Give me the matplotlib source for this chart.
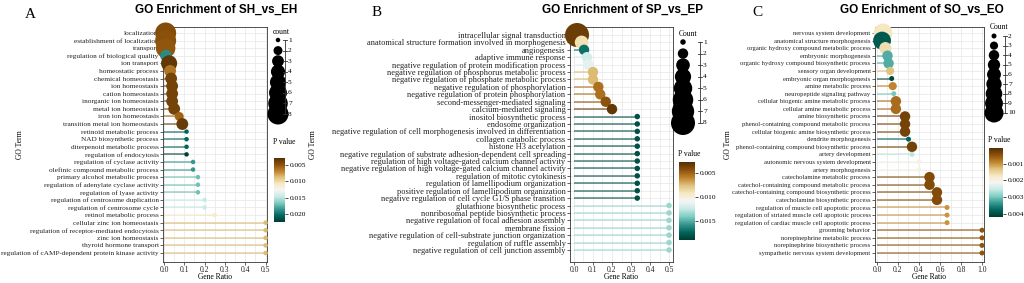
import matplotlib
matplotlib.use("Agg")
import matplotlib.pyplot as plt
import matplotlib.cm as cm
import numpy as np
from matplotlib.colors import Normalize

W, H = 1024, 283
SERIF = "Liberation Serif"
SANS = "Liberation Sans"
CMAP = plt.get_cmap("BrBG")

# ── Panel A — SH vs EH ───────────────────────────────────────────────────────
terms_a = [
    "localization", "establishment of localization", "transport",
    "regulation of biological quality", "ion transport", "homeostatic process",
    "chemical homeostasis", "ion homeostasis", "cation homeostasis",
    "inorganic ion homeostasis", "metal ion homeostasis", "iron ion homeostasis",
    "transition metal ion homeostasis", "retinoid metabolic process",
    "NAD biosynthetic process", "diterpenoid metabolic process",
    "regulation of endocytosis", "regulation of cyclase activity",
    "olefinic compound metabolic process", "primary alcohol metabolic process",
    "regulation of adenylate cyclase activity", "regulation of lyase activity",
    "regulation of centrosome duplication", "regulation of centrosome cycle",
    "retinol metabolic process", "cellular zinc ion homeostasis",
    "regulation of receptor-mediated endocytosis", "zinc ion homeostasis",
    "thyroid hormone transport",
    "regulation of cAMP-dependent protein kinase activity",
]
ratio_a = [0.008, 0.008, 0.008, 0.010, 0.025, 0.030, 0.035, 0.040, 0.040, 0.040,
           0.050, 0.075, 0.090, 0.111, 0.111, 0.111, 0.111, 0.143, 0.143, 0.167,
           0.167, 0.167, 0.200, 0.200, 0.250, 0.5, 0.5, 0.5, 0.5, 0.5]
count_a = [8, 8, 7, 3, 5, 3, 3, 3, 3, 3, 3, 2, 3, 1, 1, 1, 1, 1, 1, 1,
           1, 1, 1, 1, 1, 1, 1, 1, 1, 1]
pval_a = [0.0045, 0.0048, 0.0050, 0.0190, 0.0033, 0.0062, 0.0040, 0.0040, 0.0040,
          0.0040, 0.0040, 0.0055, 0.0035, 0.0205, 0.0205, 0.0205, 0.0222, 0.0185,
          0.0185, 0.0170, 0.0170, 0.0170, 0.0145, 0.0145, 0.0110, 0.0085, 0.0085,
          0.0085, 0.0085, 0.0085]

# ── Panel B — SP vs EP ───────────────────────────────────────────────────────
terms_b = [
    "intracellular signal transduction",
    "anatomical structure formation involved in morphogenesis", "angiogenesis",
    "adaptive immune response",
    "negative regulation of protein modification process",
    "negative regulation of phosphorus metabolic process",
    "negative regulation of phosphate metabolic process",
    "negative regulation of phosphorylation",
    "negative regulation of protein phosphorylation",
    "second-messenger-mediated signaling", "calcium-mediated signaling",
    "inositol biosynthetic process", "endosome organization",
    "negative regulation of cell morphogenesis involved in differentiation",
    "collagen catabolic process", "histone H3 acetylation",
    "negative regulation of substrate adhesion-dependent cell spreading",
    "regulation of high voltage-gated calcium channel activity",
    "negative regulation of high voltage-gated calcium channel activity",
    "regulation of mitotic cytokinesis", "regulation of lamellipodium organization",
    "positive regulation of lamellipodium organization",
    "negative regulation of cell cycle G1/S phase transition",
    "glutathione biosynthetic process", "nonribosomal peptide biosynthetic process",
    "negative regulation of focal adhesion assembly", "membrane fission",
    "negative regulation of cell-substrate junction organization",
    "regulation of ruffle assembly", "negative regulation of cell junction assembly",
]
ratio_b = [0.016, 0.040, 0.053, 0.068, 0.074, 0.100, 0.100, 0.128, 0.138, 0.167,
           0.200, 0.333, 0.333, 0.333, 0.333, 0.333, 0.333, 0.333, 0.333, 0.333,
           0.333, 0.333, 0.333, 0.5, 0.5, 0.5, 0.5, 0.5, 0.5, 0.5]
count_b = [8, 3, 2, 2, 2, 2, 2, 2, 2, 2, 2, 1, 1, 1, 1, 1, 1, 1, 1, 1,
           1, 1, 1, 1, 1, 1, 1, 1, 1, 1]
pval_b = [0.0035, 0.0090, 0.0170, 0.0120, 0.0115, 0.0075, 0.0075, 0.0055, 0.0055,
          0.0045, 0.0032, 0.0182, 0.0182, 0.0182, 0.0182, 0.0182, 0.0182, 0.0182,
          0.0182, 0.0182, 0.0182, 0.0182, 0.0182, 0.0135, 0.0135, 0.0135, 0.0135,
          0.0135, 0.0135, 0.0135]

# ── Panel C — SO vs EO ───────────────────────────────────────────────────────
terms_c = [
    "nervous system development", "anatomical structure morphogenesis",
    "organic hydroxy compound metabolic process", "embryonic morphogenesis",
    "organic hydroxy compound biosynthetic process", "sensory organ development",
    "embryonic organ morphogenesis", "amine metabolic process",
    "neuropeptide signaling pathway", "cellular biogenic amine metabolic process",
    "cellular amine metabolic process", "amine biosynthetic process",
    "phenol-containing compound metabolic process",
    "cellular biogenic amine biosynthetic process", "dendrite morphogenesis",
    "phenol-containing compound biosynthetic process", "artery development",
    "autonomic nervous system development", "artery morphogenesis",
    "catecholamine metabolic process", "catechol-containing compound metabolic process",
    "catechol-containing compound biosynthetic process",
    "catecholamine biosynthetic process", "regulation of muscle cell apoptotic process",
    "regulation of striated muscle cell apoptotic process",
    "regulation of cardiac muscle cell apoptotic process", "grooming behavior",
    "norepinephrine metabolic process", "norepinephrine biosynthetic process",
    "sympathetic nervous system development",
]
ratio_c = [0.057, 0.048, 0.080, 0.100, 0.110, 0.125, 0.140, 0.150, 0.160, 0.180,
           0.180, 0.267, 0.267, 0.267, 0.300, 0.333, 0.333, 0.400, 0.400, 0.500,
           0.500, 0.571, 0.571, 0.667, 0.667, 0.667, 1.0, 1.0, 1.0, 1.0]
count_c = [10, 9, 5, 4, 4, 3, 2, 3, 2, 4, 4, 4, 4, 4, 2, 4, 2, 2, 2, 4,
           4, 4, 4, 2, 2, 2, 2, 2, 2, 2]
pval_c = [0.0017, 0.0039, 0.0016, 0.0032, 0.0032, 0.0013, 0.0041, 0.0009, 0.0030,
          0.0007, 0.0007, 0.0003, 0.0003, 0.0003, 0.0038, 0.0003, 0.0026, 0.0020,
          0.0020, 0.0004, 0.0004, 0.0004, 0.0004, 0.0010, 0.0010, 0.0010, 0.0005,
          0.0005, 0.0005, 0.0005]

# legend entries
legend_a = [1, 2, 3, 4, 5, 6, 7, 8]
legend_b = [1, 2, 3, 4, 5, 6, 7, 8]
legend_c = [2, 3, 4, 5, 6, 7, 8, 9, 10]
cticks_a = [0.005, 0.010, 0.015, 0.020]
cticks_b = [0.005, 0.010, 0.015]
cticks_c = [0.001, 0.002, 0.003, 0.004]


def px(x0, y0, x1, y1):
    return [x0 / W, 1 - y1 / H, (x1 - x0) / W, (y1 - y0) / H]


def marker_area(counts, cmin, cmax, dmin, dmax):
    t = (np.asarray(counts, float) - cmin) / (cmax - cmin)
    d = np.sqrt(dmin ** 2 + (dmax ** 2 - dmin ** 2) * t)
    return (d * 72 / 100) ** 2


def draw_panel(fig, over, terms, ratio, count, pval, legend, cticks, cfg):
    x0, y0, x1, y1 = cfg["ax"]
    ax = fig.add_axes(px(*cfg["ax"]))
    n = len(terms)
    y = np.arange(1, n + 1)
    r1, rn = cfg["rows"]
    ppr = (rn - r1) / (n - 1)
    ax.set_ylim(n + (y1 - rn) / ppr, 1 - (r1 - y0) / ppr)
    ax.set_xlim(*cfg["xlim"])

    norm = Normalize(cfg["vmin"], cfg["vmax"])
    colors = CMAP(norm(np.asarray(pval)))
    sz = cfg["size"]
    ax.hlines(y, 0, ratio, colors=colors, lw=1.1, alpha=0.7, zorder=2)
    ax.scatter(ratio, y, s=marker_area(count, *sz), c=colors,
               edgecolors="none", zorder=3, clip_on=False)

    ax.set_yticks(y)
    ax.set_yticklabels(terms, fontsize=cfg["fs"], family=SERIF)
    ax.set_xticks(cfg["xticks"])
    ax.set_xticklabels([f"{v:.1f}" for v in cfg["xticks"]], fontsize=5.5, family=SERIF)
    ax.set_xticks(cfg["xminor"], minor=True)
    ax.grid(which="both", color="#e6e6e6", linewidth=0.5, zorder=0)
    ax.set_axisbelow(True)
    ax.tick_params(length=2, width=0.5, pad=1.2, colors="#222222")
    ax.tick_params(which="minor", length=0)
    for s in ax.spines.values():
        s.set_color("#333333")
        s.set_linewidth(0.6)

    # title, panel letter, axis labels
    over.text(cfg["title_x"], 10, cfg["title"], ha="center", va="center",
              fontsize=8.5, fontweight="bold", family=SANS)
    over.text(cfg["letter"][0], cfg["letter"][1], cfg["letter"][2],
              ha="center", va="center", fontsize=11, family=SERIF)
    over.text(cfg["ylab_x"], (y0 + y1) / 2, "GO Term", rotation=90,
              ha="center", va="center", fontsize=5.5, family=SERIF)
    over.text((x0 + x1) / 2, 277, "Gene Ratio", ha="center", va="center",
              fontsize=5.5, family=SERIF)

    # size legend
    lg = cfg["legend"]
    ly = np.linspace(lg["y0"], lg["y1"], len(legend))
    over.text(lg["title_x"], lg["title_y"], lg["title"], ha="left", va="center",
              fontsize=5.5, family=SERIF)
    over.scatter([lg["cx"]] * len(legend), ly, s=marker_area(legend, *sz),
                 c="black", edgecolors="none")
    over.plot([lg["bx"], lg["bx"]], [ly[0], ly[-1]], color="#333333", lw=0.6)
    for yy, c in zip(ly, legend):
        over.plot([lg["bx"] - 2, lg["bx"] + 1.5], [yy, yy], color="#333333", lw=0.6)
        over.text(lg["bx"] + 3, yy, str(c), ha="left", va="center",
                  fontsize=5.3, family=SERIF)

    # colour bar
    cb_cfg = cfg["cbar"]
    cax = fig.add_axes(px(*cb_cfg["rect"]))
    cb = fig.colorbar(cm.ScalarMappable(norm=norm, cmap=CMAP), cax=cax)
    cax.invert_yaxis()
    cb.set_ticks(cticks)
    cb.set_ticklabels([f"{v:.3f}" for v in cticks])
    cb.outline.set_visible(False)
    cax.tick_params(labelsize=5.3, length=2, width=0.5, pad=1.5)
    for t in cax.get_yticklabels():
        t.set_family(SERIF)
    over.text(cb_cfg["rect"][0] - 1, cb_cfg["title_y"], "P value", ha="left",
              va="center", fontsize=5.5, family=SERIF)
    return ax


fig = plt.figure(figsize=(W / 100, H / 100), dpi=100, facecolor="white")
over = fig.add_axes([0, 0, 1, 1], zorder=5)
over.set_xlim(0, W)
over.set_ylim(H, 0)
over.axis("off")

cfg_a = dict(
    ax=(163, 27, 267, 262), rows=(33, 253), xlim=(-0.005, 0.507),
    xticks=[0.0, 0.1, 0.2, 0.3, 0.4, 0.5], xminor=[0.05, 0.15, 0.25, 0.35, 0.45],
    vmin=0.0028, vmax=0.0225, size=(1, 8, 4.5, 21), fs=5.25,
    title="GO Enrichment of SH_vs_EH", title_x=216, letter=(30, 14, "A"), ylab_x=20,
    legend=dict(title="count", title_x=273, title_y=32, cx=278, y0=40, y1=114,
                bx=285),
    cbar=dict(rect=(274, 158, 285, 222), title_y=142),
)
cfg_b = dict(
    ax=(570, 27, 673, 262), rows=(35, 250), xlim=(-0.021, 0.521),
    xticks=[0.0, 0.1, 0.2, 0.3, 0.4, 0.5], xminor=[0.05, 0.15, 0.25, 0.35, 0.45],
    vmin=0.0028, vmax=0.019, size=(1, 8, 5.5, 24), fs=6.0,
    title="GO Enrichment of SP_vs_EP", title_x=622, letter=(377, 13, "B"), ylab_x=313,
    legend=dict(title="Count", title_x=679, title_y=34, cx=683, y0=42, y1=123,
                bx=700),
    cbar=dict(rect=(679, 162, 695, 240), title_y=154),
)
cfg_c = dict(
    ax=(875, 27, 984, 262), rows=(33, 253), xlim=(-0.019, 1.019),
    xticks=[0.0, 0.2, 0.4, 0.6, 0.8, 1.0], xminor=[0.1, 0.3, 0.5, 0.7, 0.9],
    vmin=0.00005, vmax=0.0042, size=(2, 10, 5, 19), fs=4.8,
    title="GO Enrichment of SO_vs_EO", title_x=922, letter=(757, 13, "C"), ylab_x=728,
    legend=dict(title="Count", title_x=990, title_y=27, cx=994, y0=36, y1=113,
                bx=1005),
    cbar=dict(rect=(989, 148, 1003, 217), title_y=140),
)

draw_panel(fig, over, terms_a, ratio_a, count_a, pval_a, legend_a, cticks_a, cfg_a)
draw_panel(fig, over, terms_b, ratio_b, count_b, pval_b, legend_b, cticks_b, cfg_b)
draw_panel(fig, over, terms_c, ratio_c, count_c, pval_c, legend_c, cticks_c, cfg_c)

fig.savefig("out.png", dpi=100, facecolor="white")
